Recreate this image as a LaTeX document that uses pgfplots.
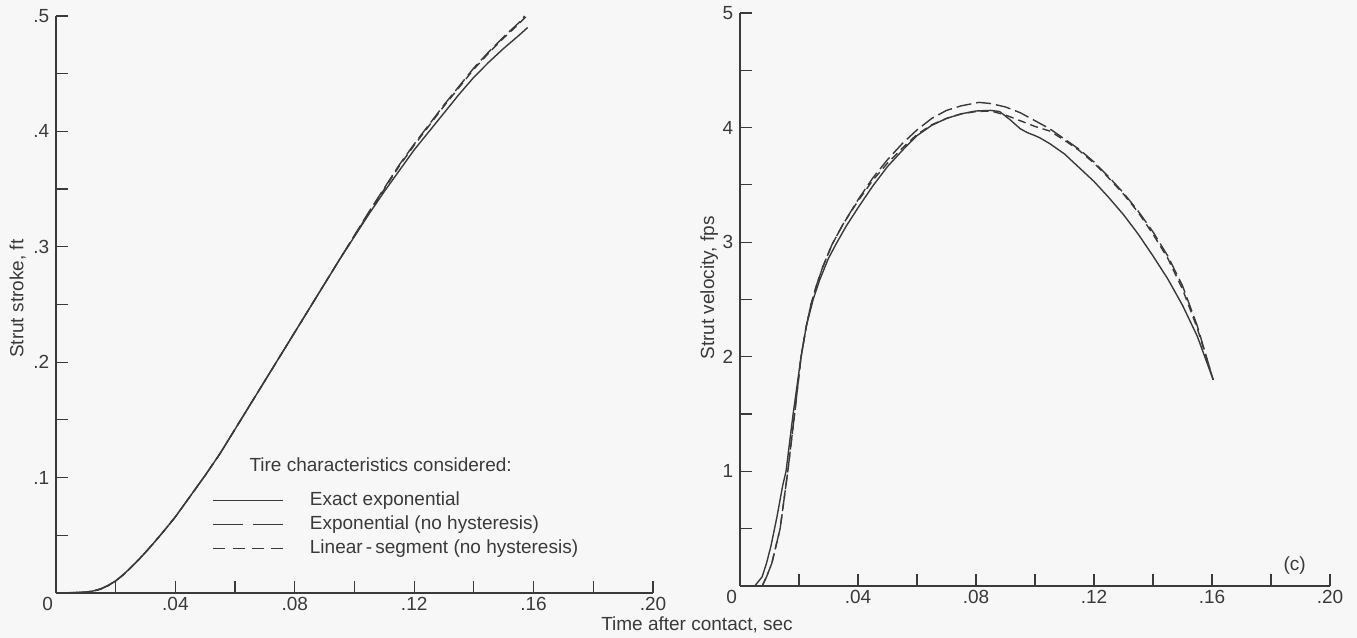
\documentclass[border=0pt]{standalone}
\usepackage{pgfplots}
\pgfplotsset{compat=1.18}
\usepackage{fontspec}
\setmainfont{Liberation Sans}
\definecolor{ink}{HTML}{3A3A3A}
\definecolor{bg}{HTML}{F7F7F7}

\pgfplotstableread{
t s
0 0
0.005 0.0003
0.01 0.0008
0.0125 0.0018
0.015 0.0037
0.0175 0.0067
0.02 0.0106
0.0225 0.0158
0.025 0.0218
0.0275 0.0283
0.03 0.0353
0.0325 0.0426
0.035 0.0502
0.0375 0.058
0.04 0.066
0.045 0.084
0.05 0.102
0.055 0.121
0.06 0.142
0.065 0.163
0.07 0.184
0.075 0.205
0.08 0.226
0.085 0.247
0.09 0.268
0.095 0.289
0.1 0.309
0.105 0.329
0.11 0.348
0.115 0.366
0.12 0.384
0.125 0.400
0.13 0.416
0.135 0.432
0.14 0.447
0.145 0.460
0.15 0.472
0.155 0.483
0.158 0.490
}\strokeExact

\pgfplotstableread{
t s
0 0
0.005 0.0002
0.01 0.0007
0.0125 0.0016
0.015 0.0034
0.0175 0.0064
0.02 0.0104
0.0225 0.0157
0.025 0.0218
0.0275 0.0283
0.03 0.0353
0.0325 0.0426
0.035 0.0502
0.0375 0.058
0.04 0.066
0.045 0.084
0.05 0.102
0.055 0.121
0.06 0.142
0.065 0.163
0.07 0.184
0.075 0.205
0.08 0.226
0.085 0.247
0.09 0.268
0.095 0.289
0.1 0.310
0.105 0.331
0.11 0.351
0.115 0.371
0.12 0.389
0.125 0.406
0.13 0.423
0.135 0.439
0.14 0.455
0.145 0.469
0.15 0.482
0.155 0.494
0.157 0.500
}\strokeExpNH

\pgfplotstableread{
t s
0 0
0.005 0.0002
0.01 0.0007
0.0125 0.0016
0.015 0.0034
0.0175 0.0064
0.02 0.0104
0.0225 0.0157
0.025 0.0218
0.0275 0.0283
0.03 0.0353
0.0325 0.0426
0.035 0.0502
0.0375 0.058
0.04 0.066
0.045 0.084
0.05 0.102
0.055 0.121
0.06 0.142
0.065 0.163
0.07 0.184
0.075 0.205
0.08 0.226
0.085 0.247
0.09 0.268
0.095 0.289
0.1 0.3095
0.105 0.330
0.11 0.350
0.115 0.370
0.12 0.388
0.125 0.405
0.13 0.422
0.135 0.438
0.14 0.454
0.145 0.468
0.15 0.481
0.155 0.493
0.158 0.501
}\strokeLinNH

\pgfplotstableread{
t v
0.005 0
0.0075 0.08
0.009 0.2
0.0105 0.35
0.0125 0.6
0.0145 0.88
0.0156 1.0
0.018 1.5
0.0207 2.0
0.0225 2.27
0.0248 2.5
0.027 2.67
0.03 2.86
0.0329 3.0
0.036 3.14
0.04 3.30
0.045 3.49
0.05 3.66
0.055 3.80
0.06 3.93
0.065 4.02
0.07 4.08
0.075 4.12
0.08 4.145
0.085 4.15
0.088 4.14
0.0915 4.07
0.095 3.99
0.0975 3.955
0.1 3.93
0.1017 3.91
0.105 3.86
0.11 3.77
0.115 3.65
0.12 3.53
0.125 3.39
0.13 3.24
0.135 3.07
0.14 2.88
0.145 2.68
0.15 2.45
0.155 2.18
0.1604 1.80
}\velExact

\pgfplotstableread{
t v
0.0075 0
0.009 0.08
0.0108 0.2
0.0136 0.5
0.0162 1.0
0.0185 1.5
0.0207 2.0
0.0225 2.27
0.024 2.45
0.026 2.63
0.028 2.78
0.0312 2.98
0.035 3.16
0.04 3.37
0.045 3.56
0.05 3.72
0.055 3.86
0.06 3.98
0.065 4.08
0.07 4.15
0.075 4.19
0.081 4.22
0.085 4.21
0.09 4.18
0.095 4.13
0.1 4.06
0.105 3.99
0.11 3.90
0.115 3.81
0.12 3.70
0.125 3.57
0.13 3.43
0.135 3.27
0.14 3.09
0.145 2.88
0.15 2.62
0.155 2.27
0.1604 1.80
}\velExpNH

\pgfplotstableread{
t v
0.0075 0
0.009 0.08
0.0108 0.2
0.0136 0.5
0.0162 1.0
0.0185 1.5
0.0207 2.0
0.0225 2.27
0.024 2.45
0.026 2.63
0.028 2.78
0.0312 2.98
0.035 3.16
0.04 3.36
0.045 3.54
0.05 3.69
0.055 3.82
0.06 3.94
0.065 4.025
0.07 4.08
0.075 4.12
0.08 4.14
0.085 4.145
0.09 4.11
0.095 4.06
0.1 4.01
0.105 3.97
0.11 3.89
0.115 3.80
0.12 3.69
0.125 3.56
0.13 3.42
0.135 3.26
0.14 3.07
0.145 2.86
0.15 2.59
0.155 2.25
0.1604 1.80
}\velLinNH

\pgfplotsset{
  myaxis/.style={
    scale only axis,
    axis x line=bottom, axis y line=left,
    axis line style={-, ink, line width=0.7pt},
    tick align=inside,
    major tick length=6pt,
    tick style={ink, line width=0.6pt},
    xmin=0, xmax=0.2,
    xtick={0,0.02,0.04,0.06,0.08,0.1,0.12,0.14,0.16,0.18,0.2},
    xticklabels={\llap{0\hspace{1.5pt}},,.04,,.08,,.12,,.16,,.20},
    ticklabel style={font=\fontsize{9.5}{11}\selectfont, text=ink},
    xticklabel style={yshift=1pt},
    clip=false,
  },
  curve/.style={ink, line width=0.7pt, mark=none},
  longdash/.style={curve, dash pattern=on 7.5pt off 2.5pt},
  shortdash/.style={curve, dash pattern=on 4pt off 2.5pt},
}

\begin{document}
\fontsize{9.5}{11}\selectfont
\begin{tikzpicture}
\path[use as bounding box, fill=bg] (-28pt,-22.5pt) rectangle (650.5pt,296.5pt);

\begin{axis}[myaxis,
  at={(0pt,0pt)}, anchor=south west,
  width=298.5pt, height=288.5pt,
  ymin=0, ymax=0.5,
  ytick={0,0.05,0.1,0.15,0.2,0.25,0.3,0.35,0.4,0.45,0.5},
  yticklabels={,,.1,,.2,,.3,,.4,,.5},
  legend image code/.code={\draw[#1] (0pt,0pt) -- (35pt,0pt);},
  legend style={draw=none, fill=none, at={(axis cs:0.0523,0.0887)}, anchor=north west,
    inner sep=0pt, row sep=2.5pt, column sep=13pt,
    nodes={inner sep=0pt, text height=7pt, text depth=2.5pt, text=ink,
      font=\fontsize{9.5}{11}\selectfont}},
  legend cell align=left,
]
\addplot[curve, forget plot] table[x=t,y=s] {\strokeExact};
\addplot[longdash, forget plot] table[x=t,y=s] {\strokeExpNH};
\addplot[shortdash, forget plot] table[x=t,y=s] {\strokeLinNH};

\addlegendimage{ink, line width=0.7pt}
\addlegendentry{Exact exponential}
\addlegendimage{ink, line width=0.7pt, dash pattern=on 15pt off 5pt}
\addlegendentry{Exponential (no hysteresis)}
\addlegendimage{ink, line width=0.7pt, dash pattern=on 6pt off 3.67pt}
\addlegendentry{Linear\,-\,segment (no hysteresis)}

\node[anchor=west, text=ink, inner sep=0pt] at (axis cs:0.0647,0.1108) {Tire characteristics considered:};
\node[rotate=90, text=ink] at (axis description cs:-0.064,0.51) {Strut stroke, ft};
\end{axis}

\begin{axis}[myaxis,
  at={(342pt,3.5pt)}, anchor=south west,
  width=295pt, height=286.5pt,
  ymin=0, ymax=5,
  ytick={0,0.5,1,1.5,2,2.5,3,3.5,4,4.5,5},
  yticklabels={,,1,,2,,3,,4,,5},
]
\addplot[curve] table[x=t,y=v] {\velExact};
\addplot[longdash] table[x=t,y=v] {\velExpNH};
\addplot[shortdash] table[x=t,y=v] {\velLinNH};
\node[text=ink] at (axis cs:0.188,0.18) {(c)};
\node[rotate=90, text=ink] at (axis description cs:-0.052,0.52) {Strut velocity, fps};
\end{axis}

\node[text=ink] at (320.5pt,-16pt) {Time after contact, sec};
\end{tikzpicture}
\end{document}
